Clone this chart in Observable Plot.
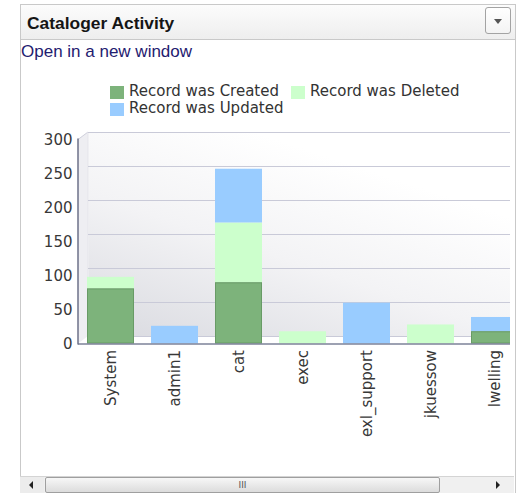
<!DOCTYPE html>
<html><head><meta charset="utf-8">
<script src="https://cdn.jsdelivr.net/npm/d3@7"></script>
<script src="https://cdn.jsdelivr.net/npm/@observablehq/plot@0.6"></script>
<style>
html,body{margin:0;padding:0;background:#fff;}
body{width:519px;height:493px;overflow:hidden;position:relative;font-family:"DejaVu Sans",sans-serif;}
#panel{position:absolute;left:20px;top:4px;width:496px;height:492px;border:1px solid #c9c9c9;box-sizing:border-box;}
#header{position:absolute;left:20px;top:4px;width:496px;height:36px;background:linear-gradient(#fcfcfc,#eeeeee);border:1px solid #c9c9c9;box-sizing:border-box;}
#title{position:absolute;left:27px;top:15px;font:bold 17.4px/1 "Liberation Sans",Arial,sans-serif;color:#151515;white-space:nowrap;}
#btn{position:absolute;left:485px;top:7px;width:26px;height:27px;border:1px solid #a3a3a3;border-radius:3px;background:linear-gradient(#ffffff,#f3f3f3);box-sizing:border-box;}
#btn:after{content:"";position:absolute;left:8px;top:11px;border-left:4.5px solid transparent;border-right:4.5px solid transparent;border-top:5px solid #555;}
#link{position:absolute;left:21px;top:43px;font:17px/1 "Liberation Sans",Arial,sans-serif;color:#1f2070;white-space:nowrap;}
.leg{position:absolute;height:15px;white-space:nowrap;font:15px/15px "DejaVu Sans",sans-serif;color:#333;}
.leg .sw{position:absolute;left:0;top:2px;width:14px;height:13px;}
.leg .tx{position:absolute;left:19px;top:0;}
#chart{position:absolute;left:0;top:120px;}
#sb{position:absolute;left:20px;top:476px;width:494px;height:17px;background:#f0f0f0;border-top:1px solid #d4d4d4;box-sizing:border-box;}
#sbl{position:absolute;left:0;top:0;width:24px;height:17px;background:#ececec;}
#sbl:after{content:"";position:absolute;left:9px;top:4px;border-top:4px solid transparent;border-bottom:4px solid transparent;border-right:4px solid #222;}
#thumb{position:absolute;left:25px;top:0;width:395px;height:16px;background:linear-gradient(#f7f7f7,#dcdcdc);border:1px solid #9f9f9f;border-radius:2px;box-sizing:border-box;font:9px/14px "DejaVu Sans";color:#555;text-align:center;letter-spacing:0px;}
#sbr{position:absolute;left:470px;top:0;width:24px;height:17px;}
#sbr:after{content:"";position:absolute;left:6px;top:4px;border-top:4px solid transparent;border-bottom:4px solid transparent;border-left:4px solid #222;}
</style>
</head><body>
<div id="panel"></div>
<div id="header"></div>
<div id="title">Cataloger Activity</div>
<div id="btn"></div>
<div id="link">Open in a new window</div>
<div id="legend"></div>
<div id="chart"></div>
<div id="sb"><div id="sbl"></div><div id="thumb">III</div><div id="sbr"></div></div>
<script>
// ---- data ----
const users = ["System", "admin1", "cat", "exec", "exl_support", "jkuessow", "lwelling"];
const series = ["Record was Created", "Record was Deleted", "Record was Updated"];
const created = [81, 0, 90, 0, 0, 0, 18];
const deleted = [17, 0, 88, 18, 0, 28, 0];
const updated = [0, 26, 79, 0, 60, 0, 21];
const colors = ["#7db37b", "#ccffcc", "#99ccff"];
const yTicks = [0, 50, 100, 150, 200, 250, 300];

// ---- layout ----
const legendPos = [[110, 84], [291, 84], [110, 101]];
const DX = 10, DY = -7.5;

const valuesBySeries = [created, deleted, updated];
const rows = [];
users.forEach((u, i) => series.forEach((s, j) => rows.push({user: u, action: s, count: valuesBySeries[j][i]})));

// legend
const leg = document.getElementById("legend");
series.forEach((s, j) => {
  const d = document.createElement("div");
  d.className = "leg";
  d.style.left = legendPos[j][0] + "px";
  d.style.top = legendPos[j][1] + "px";
  d.innerHTML = `<div class="sw" style="background:${colors[j]}"></div><div class="tx">${s}</div>`;
  leg.appendChild(d);
});

// 3D side wall + gradients (derived from scales)
function walls(index, scales, values, dim) {
  const g = d3.create("svg:g");
  const defs = g.append("defs");
  const lg = defs.append("linearGradient").attr("id", "wallGrad")
    .attr("x1", 0).attr("y1", 1).attr("x2", 0.6).attr("y2", 0.15);
  lg.append("stop").attr("offset", 0).attr("stop-color", "#d9dae0");
  lg.append("stop").attr("offset", 0.55).attr("stop-color", "#f3f3f5");
  lg.append("stop").attr("offset", 1).attr("stop-color", "#ffffff");
  const y0 = scales.y(yTicks[0]), y1 = scales.y(yTicks[yTicks.length - 1]);
  const xl = dim.marginLeft;
  g.append("polygon")
    .attr("points", [[xl, y0], [xl, y1], [xl + DX, y1 + DY], [xl + DX, y0 + DY]].join(" "))
    .attr("fill", "#eeeef2");
  g.append("line").attr("x1", xl).attr("y1", y1).attr("x2", xl + DX).attr("y2", y1 + DY)
    .attr("stroke", "#cfd0dc");
  g.append("line").attr("x1", xl + DX).attr("y1", y1 + DY).attr("x2", xl + DX).attr("y2", y0 + DY)
    .attr("stroke", "#e4e4ea");
  return g.node();
}
function leftAxisLine(index, scales, values, dim) {
  const g = d3.create("svg:g");
  const y0 = scales.y(yTicks[0]), y1 = scales.y(yTicks[yTicks.length - 1]);
  g.append("line").attr("x1", dim.marginLeft).attr("x2", dim.marginLeft)
    .attr("y1", y1 - 1).attr("y2", y0 + 1).attr("stroke", "#6c7189").attr("stroke-width", 1.5);
  return g.node();
}

const chart = Plot.plot({
  width: 510,
  height: 355,
  marginTop: 19.5,
  marginBottom: 131.5,
  marginLeft: 78,
  marginRight: 0,
  style: {fontFamily: "DejaVu Sans, sans-serif", fontSize: "15px", color: "#383838", background: "transparent", overflow: "hidden"},
  x: {domain: users, range: [76.5, 76.5 + 7 * 64.7], paddingInner: 0.26, paddingOuter: 0.13, align: 0.5,
      tickRotate: -90, tickSize: 0, tickPadding: 6, label: null},
  y: {domain: [0, 300], ticks: yTicks, tickSize: 0, tickPadding: 6, label: null},
  color: {domain: series, range: colors},
  marks: [
    Plot.frame({dx: DX, dy: DY, fill: "url(#wallGrad)", stroke: null}),
    walls,
    Plot.ruleY(yTicks, {dx: DX, dy: DY, stroke: "#c9cad8", strokeWidth: 1.2}),
    Plot.barY(rows, {x: "user", y: "count", fill: "action", inset: 0}),
    Plot.barY(rows.filter(d => d.action === series[0]), {x: "user", y: "count", fill: "none", stroke: "#689b66", strokeWidth: 1, inset: 0.5}),
    Plot.ruleY([0], {stroke: "#7d8298", strokeWidth: 1.5}),
    leftAxisLine
  ]
});
document.getElementById("chart").appendChild(chart);
</script>
</body></html>
